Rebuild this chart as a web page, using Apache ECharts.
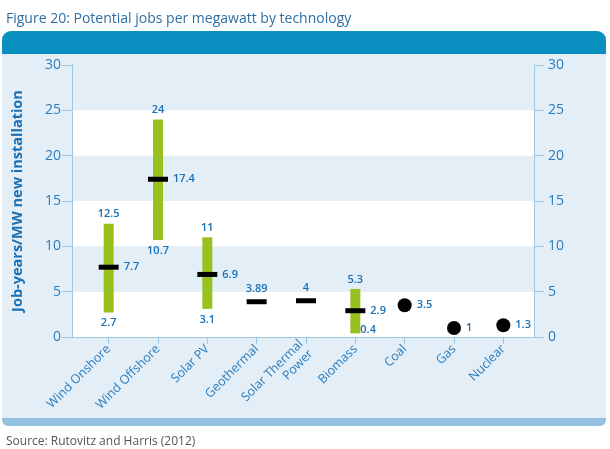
<!DOCTYPE html>
<html>
<head>
<meta charset="utf-8">
<script src="https://cdn.jsdelivr.net/npm/echarts@6/dist/echarts.min.js"></script>
<style>html,body{margin:0;padding:0;background:#fff}#c{width:610px;height:449px}</style>
</head>
<body>
<div id="c"></div>
<script>
const titleText = 'Figure 20: Potential jobs per megawatt by technology';
const sourceText = 'Source: Rutovitz and Harris (2012)';
const yAxisName = 'Job-years/MW new installation';
const categories = ['Wind Onshore','Wind Offshore','Solar PV','Geothermal','Solar Thermal\nPower','Biomass','Coal','Gas','Nuclear'];
const rangeLow  = [2.7, 10.7, 3.1, null, null, 0.4, null, null, null];
const rangeHigh = [12.5, 24, 11, null, null, 5.3, null, null, null];
const average   = [7.7, 17.4, 6.9, 3.89, 4, 2.9, null, null, null];
const conventional = [null, null, null, null, null, null, 3.5, 1, 1.3];
const yTicks = [0, 5, 10, 15, 20, 25, 30];

const FONT = 'Open Sans';
const labelBlue = '#176fb5';
const axisBlue = '#2a7dbf';
const lineBlue = '#9fc6e2';

const rangeData = [], highData = [], lowData = [], avgData = [], convData = [];
categories.forEach((c, i) => {
  if (rangeLow[i] != null) {
    rangeData.push([i, rangeLow[i], rangeHigh[i]]);
    highData.push([i, rangeHigh[i]]);
    lowData.push({value: [i, rangeLow[i]], label: rangeLow[i] < 1 ? {position: 'right', offset: [0, -4]} : {position: 'bottom'}});
  }
  if (average[i] != null) {
    avgData.push({value: [i, average[i]], label: {position: rangeLow[i] != null ? 'right' : 'top'}});
  }
  if (conventional[i] != null) convData.push([i, conventional[i]]);
});

const valLabel = {show: true, color: labelBlue, fontSize: 11, fontWeight: 600, fontFamily: FONT, formatter: p => String(p.value[1])};

const chart = echarts.init(document.getElementById('c'), null, {renderer: 'canvas'});
chart.setOption({
  animation: false,
  title: [
    {text: titleText, left: 1, top: 7, textStyle: {fontSize: 14, fontWeight: 'normal', color: '#2e6ea2', fontFamily: FONT}},
    {text: sourceText, left: 1, top: 431, textStyle: {fontSize: 12, fontWeight: 'normal', color: '#555', fontFamily: FONT}}
  ],
  graphic: [
    {type: 'rect', z: -20, shape: {x: 2, y: 31, width: 604, height: 395, r: [9, 9, 6, 6]}, style: {fill: '#94c1e0'}},
    {type: 'rect', z: -19, shape: {x: 2, y: 31, width: 604, height: 387, r: [9, 9, 0, 0]}, style: {fill: '#e3eef7'}},
    {type: 'rect', z: -18, shape: {x: 2, y: 31, width: 604, height: 23, r: [9, 9, 0, 0]}, style: {fill: '#0a90c0'}}
  ],
  grid: [
    {left: 72, right: 76, top: 65, bottom: 112},
    {left: 84, right: 82, top: 65, bottom: 112}
  ],
  xAxis: [
    {gridIndex: 0, type: 'value', min: 0, max: 1, axisLine: {show: true, lineStyle: {color: lineBlue}}, axisTick: {show: false}, axisLabel: {show: false}, splitLine: {show: false}},
    {gridIndex: 1, type: 'category', data: categories, axisLine: {show: false}, axisTick: {show: true, alignWithLabel: true, length: 7, lineStyle: {color: lineBlue}},
     axisLabel: {rotate: 45, margin: 10, color: axisBlue, fontSize: 12.5, fontFamily: FONT, lineHeight: 14}}
  ],
  yAxis: [
    {gridIndex: 0, type: 'value', min: 0, max: 30, interval: 5, position: 'left',
     name: yAxisName, nameLocation: 'middle', nameGap: 47, nameRotate: 90,
     nameTextStyle: {color: '#1c6fb3', fontSize: 14.5, fontWeight: 'bold', fontFamily: FONT},
     axisLine: {show: true, lineStyle: {color: lineBlue}}, axisTick: {show: true, length: 10, lineStyle: {color: lineBlue}},
     axisLabel: {margin: 11, color: axisBlue, fontSize: 14, fontFamily: FONT},
     splitLine: {show: false}, splitArea: {show: true, areaStyle: {color: ['#ffffff', '#e3eef7']}}},
    {gridIndex: 0, type: 'value', min: 0, max: 30, interval: 5, position: 'right',
     axisLine: {show: true, lineStyle: {color: lineBlue}}, axisTick: {show: true, length: 10, lineStyle: {color: lineBlue}},
     axisLabel: {margin: 14, color: axisBlue, fontSize: 14, fontFamily: FONT},
     splitLine: {show: false}},
    {gridIndex: 1, type: 'value', min: 0, max: 30, show: false}
  ],
  series: [
    {type: 'custom', xAxisIndex: 1, yAxisIndex: 2, data: rangeData, z: 2,
     renderItem: (params, api) => {
       const top = api.coord([api.value(0), api.value(2)]);
       const bot = api.coord([api.value(0), api.value(1)]);
       return {type: 'rect', shape: {x: top[0] - 5, y: top[1], width: 10, height: bot[1] - top[1]}, style: {fill: '#98c11f'}};
     }},
    {type: 'scatter', xAxisIndex: 1, yAxisIndex: 2, data: highData, symbolSize: 0, z: 3, itemStyle: {opacity: 1},
     label: Object.assign({position: 'top', distance: 4}, valLabel)},
    {type: 'scatter', xAxisIndex: 1, yAxisIndex: 2, data: lowData, symbolSize: 0, z: 3, itemStyle: {opacity: 1},
     label: Object.assign({position: 'bottom', distance: 5}, valLabel)},
    {type: 'scatter', xAxisIndex: 1, yAxisIndex: 2, data: avgData, symbol: 'rect', symbolSize: [20, 5], z: 4,
     itemStyle: {color: '#000', opacity: 1},
     label: Object.assign({distance: 5}, valLabel)},
    {type: 'scatter', xAxisIndex: 1, yAxisIndex: 2, data: convData, symbol: 'circle', symbolSize: 14, z: 4,
     itemStyle: {color: '#000', opacity: 1},
     label: Object.assign({position: 'right', distance: 5}, valLabel)}
  ]
});
</script>
</body>
</html>
